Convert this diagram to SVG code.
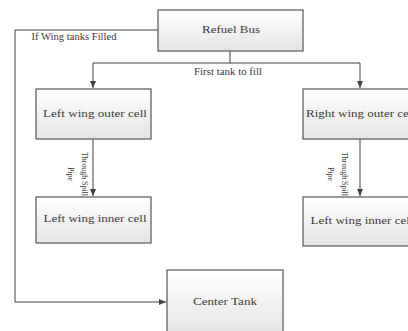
<svg xmlns="http://www.w3.org/2000/svg" width="408" height="331" viewBox="0 0 408 331">
<defs>
<linearGradient id="g" x1="0" y1="0" x2="0" y2="1">
<stop offset="0" stop-color="#ffffff"/>
<stop offset="1" stop-color="#e4e4e4"/>
</linearGradient>
<marker id="arr" markerWidth="8" markerHeight="8" refX="7" refY="4" orient="auto" markerUnits="userSpaceOnUse">
<path d="M0,1 L7,4 L0,7 Z" fill="#404040"/>
</marker>
</defs>
<style>
.box{fill:url(#g);stroke:#555;stroke-width:1.2}
.sh{fill:#d8d8d8}
.t{font-family:"Liberation Serif","Times New Roman",serif;font-size:10.5px;fill:#3a3a3a;text-anchor:middle}
.s{font-family:"Liberation Serif","Times New Roman",serif;font-size:8px;fill:#3a3a3a;text-anchor:middle}
.c{fill:none;stroke:#404040;stroke-width:1}
</style>
<rect width="408" height="331" fill="#fff"/>
<g id="connectors">
<path class="c" d="M158,30 H15 V302 H166" marker-end="url(#arr)"/>
<path class="c" d="M230,51 V63 H93 V88" marker-end="url(#arr)"/>
<path class="c" d="M230,63 H360 V88" marker-end="url(#arr)"/>
<path class="c" d="M93,139 V196" marker-end="url(#arr)"/>
<path class="c" d="M360,139 V196" marker-end="url(#arr)"/>
<text class="t" x="228" y="75" textLength="68" lengthAdjust="spacingAndGlyphs" font-size="9">First tank to fill</text>
<text class="t" x="74" y="40" textLength="85" lengthAdjust="spacingAndGlyphs" font-size="9">If Wing tanks Filled</text>
<g transform="translate(81.5,174) rotate(90)">
<text class="s" x="0" y="0" textLength="44" lengthAdjust="spacingAndGlyphs">Through Spill</text>
<text class="s" x="0" y="14">Pipe</text>
</g>
<g transform="translate(341.5,174) rotate(90)">
<text class="s" x="0" y="0" textLength="44" lengthAdjust="spacingAndGlyphs">Through Spill</text>
<text class="s" x="0" y="14">Pipe</text>
</g>
</g>
<g id="refuel-bus">
<rect class="box" x="158" y="10" width="145" height="41"/>
<text class="t" x="231" y="33" textLength="58" lengthAdjust="spacingAndGlyphs">Refuel Bus</text>
</g>
<g id="left-outer">
<rect class="box" x="36" y="89" width="115" height="50"/>
<text class="t" x="95" y="117" textLength="104" lengthAdjust="spacingAndGlyphs">Left wing outer cell</text>
</g>
<g id="left-inner">
<rect class="box" x="36" y="197" width="115" height="46"/>
<text class="t" x="95" y="222" textLength="103" lengthAdjust="spacingAndGlyphs">Left wing inner cell</text>
</g>
<g id="right-outer">
<rect class="box" x="303" y="89" width="115" height="50"/>
<text class="t" x="361" y="117" textLength="110" lengthAdjust="spacingAndGlyphs">Right wing outer cell</text>
</g>
<g id="right-inner">
<rect class="box" x="303" y="197" width="115" height="49"/>
<text class="t" x="362" y="224" textLength="103" lengthAdjust="spacingAndGlyphs">Left wing inner cell</text>
</g>
<g id="center-tank">
<rect class="box" x="167" y="270" width="116" height="66"/>
<text class="t" x="225" y="305" textLength="64" lengthAdjust="spacingAndGlyphs">Center Tank</text>
</g>
</svg>
